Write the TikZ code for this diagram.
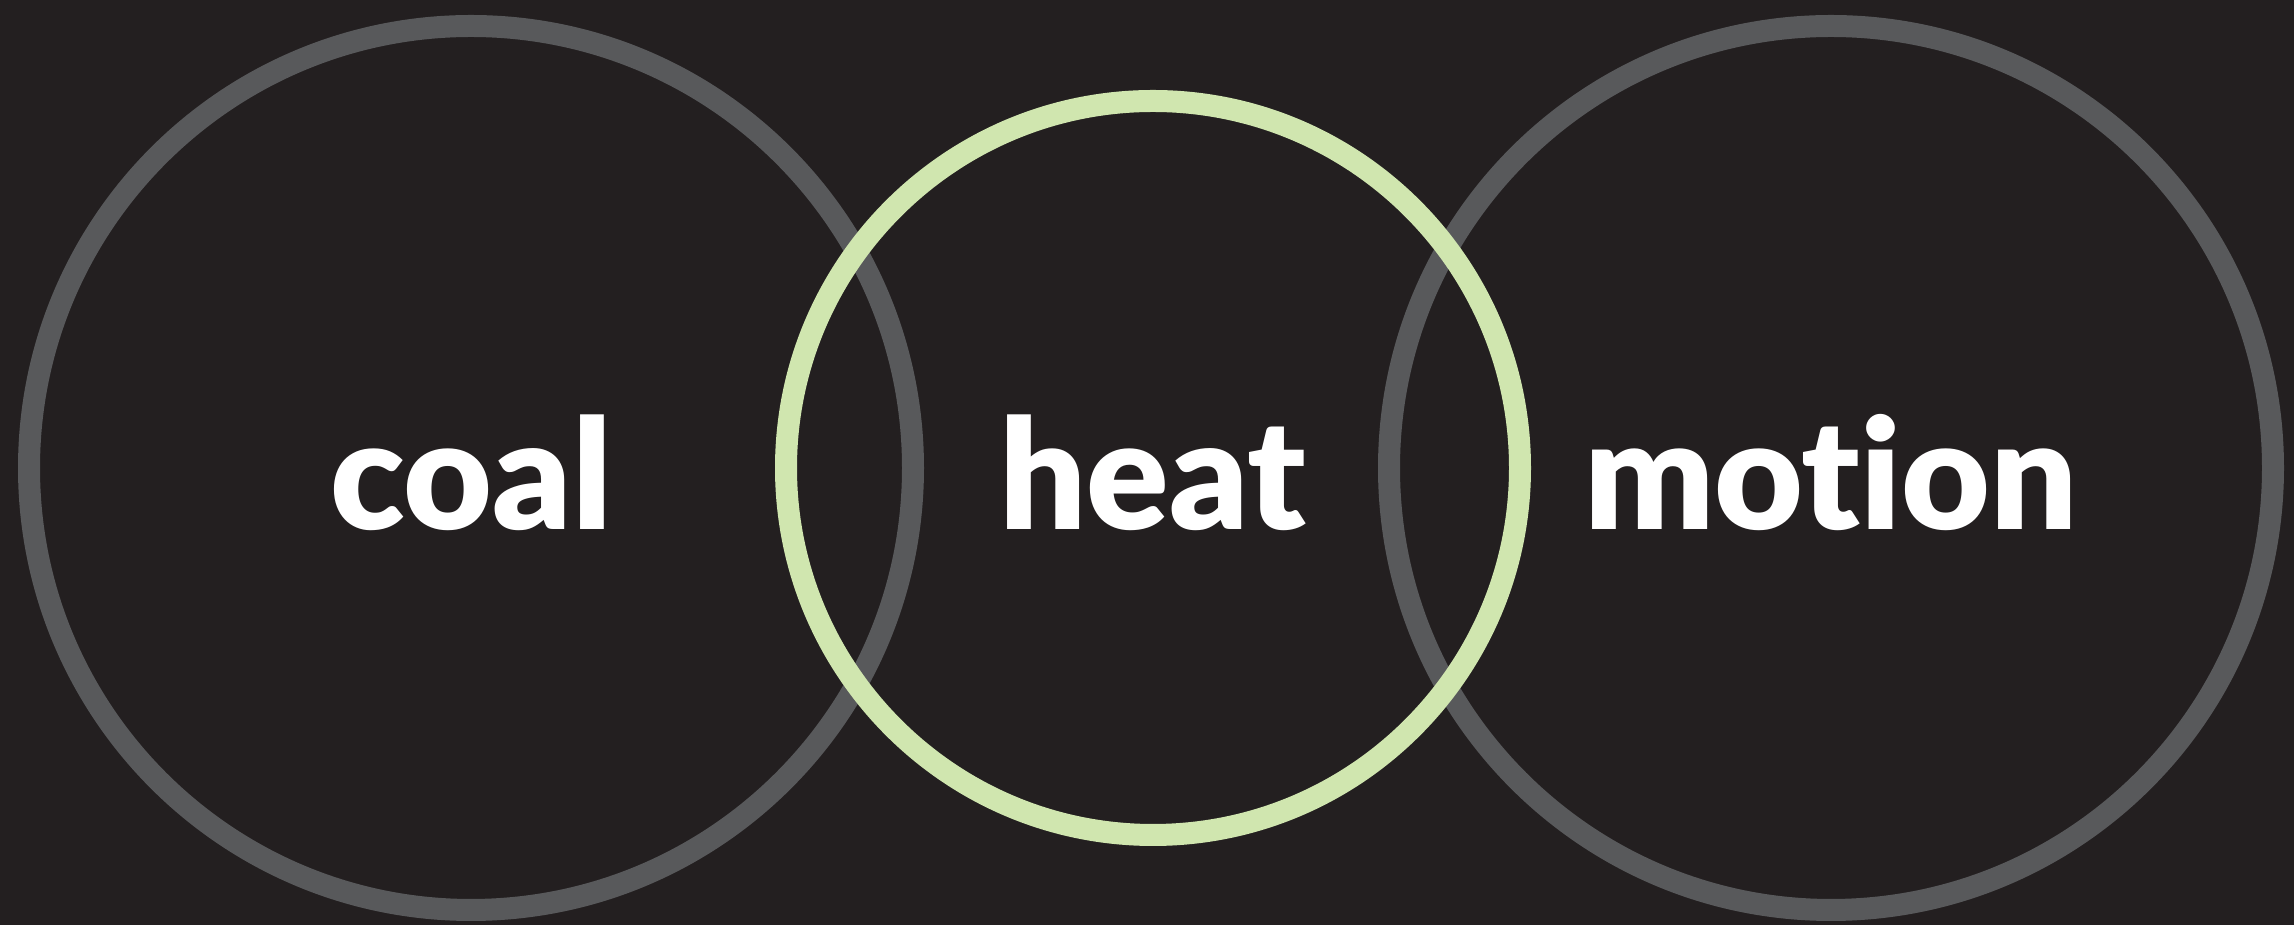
\documentclass[tikz,border=0pt]{standalone}
\usepackage{fontspec}
\setmainfont{Lato}[Ligatures=NoCommon,BoldFont={Lato Black}]
\definecolor{PageDark}{RGB}{35,31,32}
\definecolor{RingGray}{RGB}{88,89,91}
\definecolor{RingGreen}{RGB}{208,230,175}
\usetikzlibrary{positioning}

\begin{document}
\begin{tikzpicture}[
      ring/.style={circle,draw=RingGray,line width=0.22cm,inner sep=0pt,
                   minimum size=8.84cm},
      hotring/.style={ring,draw=RingGreen,minimum size=7.34cm},
      word/.style={text=white,font=\bfseries\fontsize{43.6pt}{50pt}\selectfont,
                   inner sep=0pt,anchor=base}]
    \fill[PageDark] (0,0) rectangle (22.94,-9.25);
    \useasboundingbox (0,0) rectangle (22.94,-9.25);
    % outer rings first, the green one on top
    \node[ring] (coalring) at (4.71,-4.68) {};
    \node[ring] (motionring) at (18.31,-4.68) {};
    \node[hotring] (heatring) at (11.53,-4.68) {};
    \node[word] (coal) at ([yshift=-0.62cm]coalring.center) {coal};
    \node[word] (heat) at ([yshift=-0.62cm]heatring.center) {heat};
    \node[word] (motion) at ([yshift=-0.62cm]motionring.center) {motion};
  \end{tikzpicture}
\end{document}
